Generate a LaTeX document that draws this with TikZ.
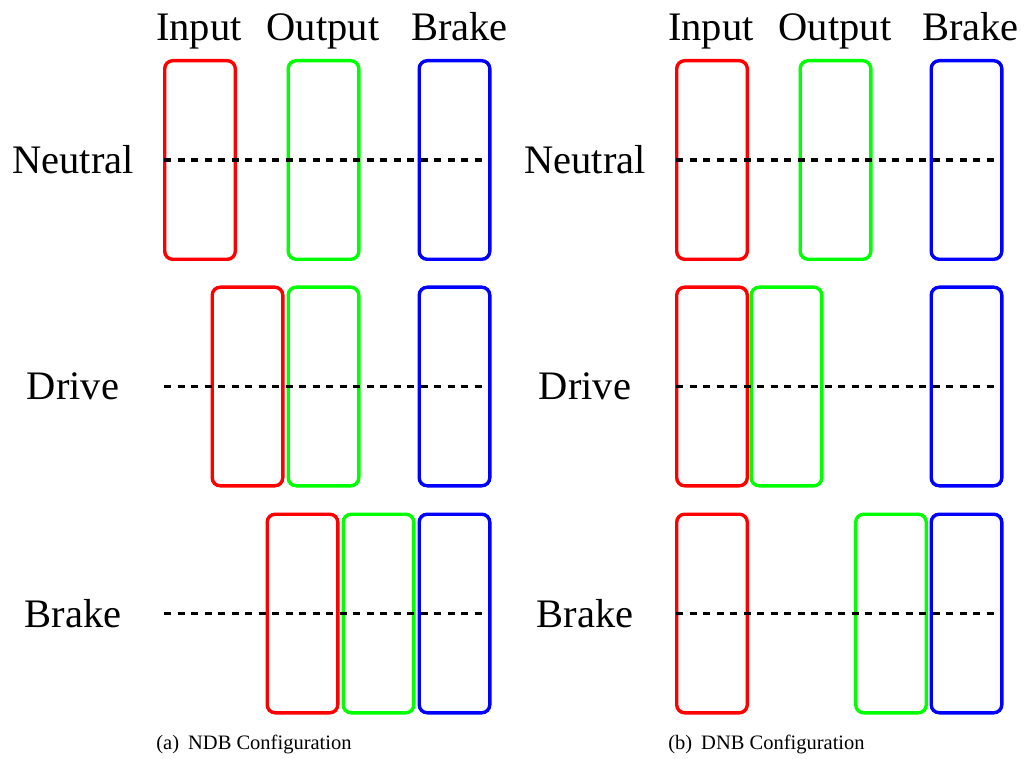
\documentclass[tikz,border=0pt]{standalone}
\usepackage{fontspec}
\setmainfont{Liberation Serif}
\begin{document}
\begin{tikzpicture}[x=1pt,y=-1pt,
  plate/.style={draw=#1, line width=3.4pt, rounded corners=8pt,
    minimum width=70.6pt, minimum height=198.6pt, inner sep=0pt},
  axisline/.style={line width=3.4pt, dash pattern=on 7pt off 6.5pt},
  bigtext/.style={font=\fontsize{40.5}{44}\selectfont, inner sep=0pt, anchor=base},
  captext/.style={font=\fontsize{20.5}{24}\selectfont, inner sep=0pt, anchor=base}]
\definecolor{inred}{RGB}{255,0,0}
\definecolor{outgreen}{RGB}{0,255,0}
\definecolor{brblue}{RGB}{0,0,255}
\useasboundingbox (0,0) rectangle (1029,759);

% ---------- (a) NDB configuration ----------
\node[bigtext] (aIn)  at (199,40.5) {Input};
\node[bigtext] (aOut) at (323,40.5) {Output};
\node[bigtext] (aBr)  at (459.5,40.5) {Brake};

\node[bigtext] (aN) at (73,173.5) {Neutral};
\node[bigtext] (aD) at (73,400) {Drive};
\node[bigtext] (aB) at (73,627) {Brake};

% neutral
\node[plate=inred]    (aNi) at (200,160) {};
\node[plate=outgreen] (aNo) at (323.5,160) {};
\node[plate=brblue]   (aNb) at (454.5,160) {};
% drive
\node[plate=inred]    (aDi) at (247.5,386.5) {};
\node[plate=outgreen] (aDo) at (323.5,386.5) {};
\node[plate=brblue]   (aDb) at (454.5,386.5) {};
% brake
\node[plate=inred]    (aBi) at (302.5,613.5) {};
\node[plate=outgreen] (aBo) at (378.5,613.5) {};
\node[plate=brblue]   (aBb) at (454.5,613.5) {};

\coordinate (aN1) at (164,160);   \coordinate (aN2) at (488,160);
\coordinate (aD1) at (164,386.5); \coordinate (aD2) at (488,386.5);
\coordinate (aB1) at (164,613.5); \coordinate (aB2) at (488,613.5);
\draw[axisline] (aN1) -- (aN2);
\draw[axisline] (aD1) -- (aD2);
\draw[axisline] (aB1) -- (aB2);

\node[captext] (capA) at (254,749.5) {(a)\hskip 9pt NDB Configuration};

% ---------- (b) DNB configuration ----------
\node[bigtext] (bIn)  at (711,40.5) {Input};
\node[bigtext] (bOut) at (835,40.5) {Output};
\node[bigtext] (bBr)  at (970.5,40.5) {Brake};

\node[bigtext] (bN) at (585,173.5) {Neutral};
\node[bigtext] (bD) at (585,400) {Drive};
\node[bigtext] (bB) at (585,627) {Brake};

% neutral
\node[plate=inred]    (bNi) at (712,160) {};
\node[plate=outgreen] (bNo) at (835.5,160) {};
\node[plate=brblue]   (bNb) at (966.5,160) {};
% drive
\node[plate=inred]    (bDi) at (712,386.5) {};
\node[plate=outgreen] (bDo) at (786.5,386.5) {};
\node[plate=brblue]   (bDb) at (966.5,386.5) {};
% brake
\node[plate=inred]    (bBi) at (712,613.5) {};
\node[plate=outgreen] (bBo) at (891,613.5) {};
\node[plate=brblue]   (bBb) at (966.5,613.5) {};

\coordinate (bN1) at (676,160);   \coordinate (bN2) at (1000,160);
\coordinate (bD1) at (676,386.5); \coordinate (bD2) at (1000,386.5);
\coordinate (bB1) at (676,613.5); \coordinate (bB2) at (1000,613.5);
\draw[axisline] (bN1) -- (bN2);
\draw[axisline] (bD1) -- (bD2);
\draw[axisline] (bB1) -- (bB2);

\node[captext] (capB) at (766.5,749.5) {(b)\hskip 9pt DNB Configuration};
\end{tikzpicture}
\end{document}
